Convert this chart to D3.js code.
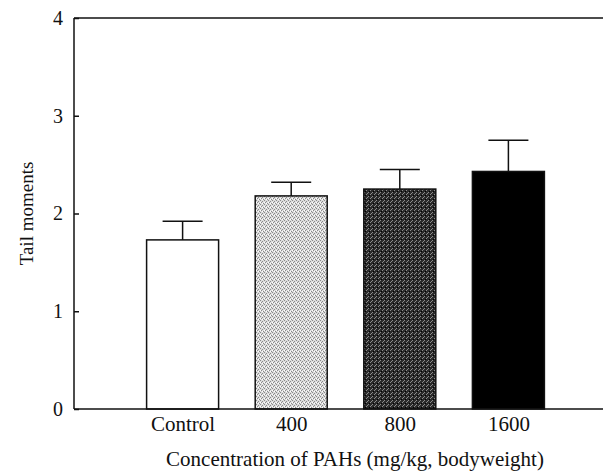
<!DOCTYPE html>
<html lang="en">
<head>
    <meta charset="UTF-8">
    <title>Tail moments</title>
    <script src="https://d3js.org/d3.v7.js"></script>
    <style>
        body { margin: 0; background: #fff; }
        svg { display: block; }
        text { font-family: "Liberation Serif", "Times New Roman", serif; fill: #111; }
    </style>
</head>
<body>
    <svg width="603" height="475"></svg>
    <script>
        // data
        const groups = ["Control", "400", "800", "1600"];
        const means = [1.73, 2.18, 2.25, 2.43];
        const errors = [0.19, 0.14, 0.20, 0.32];
        const yTicks = [0, 1, 2, 3, 4];
        const fills = ["#ffffff", "url(#dotsLight)", "url(#dotsDark)", "#000000"];

        const margin = { top: 18, bottom: 66, left: 74, right: -14 };
        const width = 603, height = 475;
        const svg = d3.select("svg");

        // stipple textures for the two grey bars
        const defs = svg.append("defs");
        const light = defs.append("pattern").attr("id", "dotsLight")
            .attr("width", 4).attr("height", 4).attr("patternUnits", "userSpaceOnUse");
        light.append("rect").attr("width", 4).attr("height", 4).attr("fill", "#dcdcdc");
        [[0, 0], [2, 1], [1, 2], [3, 3]].forEach(p => {
            light.append("rect").attr("x", p[0]).attr("y", p[1]).attr("width", 1).attr("height", 1).attr("fill", "#8a8a8a");
        });
        [[2, 3], [0, 2]].forEach(p => {
            light.append("rect").attr("x", p[0]).attr("y", p[1]).attr("width", 1).attr("height", 1).attr("fill", "#ffffff");
        });
        const dark = defs.append("pattern").attr("id", "dotsDark")
            .attr("width", 4).attr("height", 4).attr("patternUnits", "userSpaceOnUse");
        dark.append("rect").attr("width", 4).attr("height", 4).attr("fill", "#2a2a2a");
        [[0, 0], [2, 2], [3, 1]].forEach(p => {
            dark.append("rect").attr("x", p[0]).attr("y", p[1]).attr("width", 1).attr("height", 1).attr("fill", "#8c8c8c");
        });
        [[1, 3]].forEach(p => {
            dark.append("rect").attr("x", p[0]).attr("y", p[1]).attr("width", 1).attr("height", 1).attr("fill", "#000");
        });

        const x = d3.scalePoint()
            .domain(groups)
            .range([margin.left, width - margin.right])
            .padding(1);

        const y = d3.scaleLinear()
            .domain([0, 4])
            .range([height - margin.bottom, margin.top]);

        const barW = 72;
        const capW = 40;

        // top line of the frame
        svg.append("line")
            .attr("x1", margin.left).attr("x2", width)
            .attr("y1", y(4)).attr("y2", y(4))
            .attr("stroke", "#111").attr("stroke-width", 1.5);

        // bars
        svg.selectAll(".bar")
            .data(groups)
            .enter().append("rect")
            .attr("class", "bar")
            .attr("x", d => x(d) - barW / 2)
            .attr("width", barW)
            .attr("y", (d, i) => y(means[i]))
            .attr("height", (d, i) => y(0) - y(means[i]))
            .attr("fill", (d, i) => fills[i])
            .attr("stroke", "#111")
            .attr("stroke-width", 1.5);

        // error bars (upper only)
        const err = svg.selectAll(".err")
            .data(groups)
            .enter().append("g")
            .attr("class", "err")
            .attr("stroke", "#111")
            .attr("stroke-width", 1.5);
        err.append("line")
            .attr("x1", d => x(d)).attr("x2", d => x(d))
            .attr("y1", (d, i) => y(means[i]))
            .attr("y2", (d, i) => y(means[i] + errors[i]));
        err.append("line")
            .attr("x1", d => x(d) - capW / 2).attr("x2", d => x(d) + capW / 2)
            .attr("y1", (d, i) => y(means[i] + errors[i]))
            .attr("y2", (d, i) => y(means[i] + errors[i]));

        // y axis with inward ticks
        const yAxis = svg.append("g")
            .attr("transform", `translate(${margin.left},0)`)
            .call(d3.axisRight(y).tickValues(yTicks).tickSize(5).tickFormat(d3.format("d")));
        yAxis.select(".domain").attr("d", `M0,${y(0)}V${y(4)}`).attr("stroke", "#111").attr("stroke-width", 1.5);
        yAxis.selectAll(".tick line").attr("stroke", "#111").attr("stroke-width", 1.5);
        yAxis.selectAll(".tick text")
            .attr("x", -11)
            .attr("text-anchor", "end")
            .attr("font-size", 20)
            .attr("font-family", "Liberation Serif");

        // x axis: baseline and category labels, no ticks
        const xAxis = svg.append("g")
            .attr("transform", `translate(0,${y(0)})`)
            .call(d3.axisBottom(x).tickSize(0).tickPadding(7));
        xAxis.select(".domain").attr("d", `M${margin.left},0H${width}`).attr("stroke", "#111").attr("stroke-width", 1.5);
        xAxis.selectAll(".tick text")
            .attr("font-size", 21)
            .attr("font-family", "Liberation Serif");

        // axis titles
        svg.append("text")
            .attr("x", 355)
            .attr("y", 466)
            .attr("text-anchor", "middle")
            .attr("font-size", 21)
            .text("Concentration of PAHs (mg/kg, bodyweight)");

        svg.append("text")
            .attr("transform", `translate(33,${(y(0) + y(4)) / 2}) rotate(-90)`)
            .attr("text-anchor", "middle")
            .attr("font-size", 19)
            .text("Tail moments");
    </script>
</body>
</html>
